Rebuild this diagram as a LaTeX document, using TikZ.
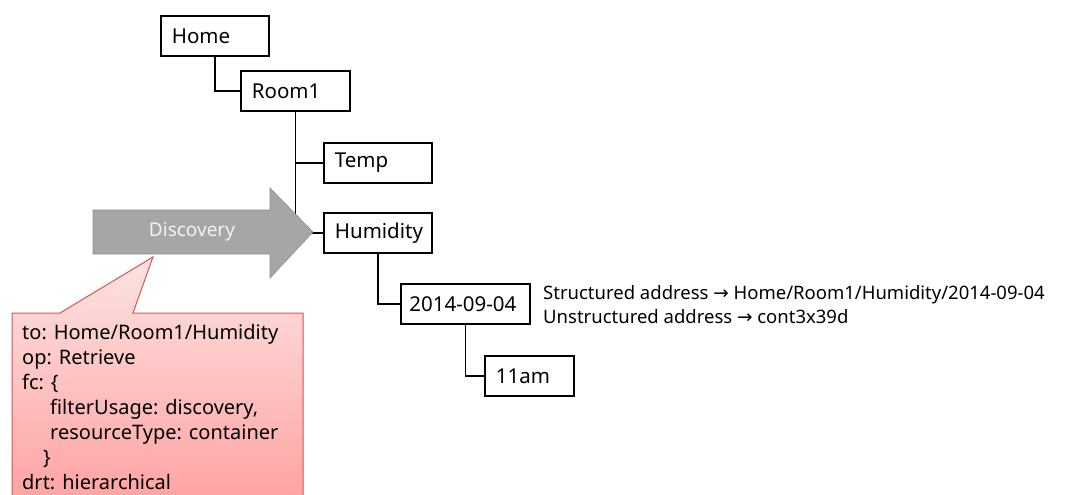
\documentclass[tikz,border=0pt]{standalone}
\usepackage{fontspec}
\setmainfont{Noto Sans}
\newfontfamily\symfont{DejaVu Sans}
\usepackage{xcolor}
\usetikzlibrary{positioning}

\definecolor{arrowgray}{HTML}{A6A6A6}
\definecolor{arrowline}{HTML}{8E8E8E}
\definecolor{calltop}{HTML}{FDE3E3}
\definecolor{callbot}{HTML}{FF9E9E}
\definecolor{callline}{HTML}{D65454}

\tikzset{
  treebox/.style={draw, line width=1.8pt, anchor=north west, minimum height=40pt,
    inner xsep=11pt, inner ysep=0pt, text width=#1, align=left,
    font=\fontsize{20.5}{23}\selectfont},
  link/.style={line width=1.8pt}
}

\begin{document}
\begin{tikzpicture}[x=1pt,y=-1pt]
\useasboundingbox (0,0) rectangle (1071,495);
  % tree of resources
  \node[treebox=86pt] (home) at (160,15) {Home};
  \node[treebox=87pt] (room) at (240,70) {Room1};
  \node[treebox=86pt] (temp) at (323,142) {Temp};
  \node[treebox=86pt] (hum) at (323,212) {Humidity};
  \node[treebox=112pt, inner xsep=8.5pt] (date) at (400,283) {2014-09-04};
  \node[treebox=67pt] (time) at (484,355) {11am};
    \draw[link] (home.south) |- (room.west);
    \draw[link] (room.south) |- (hum.west);
    \draw[link] (room.south |- temp.west) -- (temp.west);
    \draw[link] (hum.south) |- (date.west);
    \draw[link] (date.south) |- (time.west);
  \node[anchor=west, align=left, inner sep=0pt, font=\fontsize{18.5}{24}\selectfont]
    (addr) at (543,305) {Structured address {\symfont →} Home/Room1/Humidity/2014-09-04\\
    Unstructured address {\symfont →} cont3x39d};
  % discovery arrow
  \fill[arrowgray, draw=arrowline, line width=.6pt] (93,210) -- (270,210) -- (270,188)
    -- (313,232) -- (270,278) -- (270,254) -- (93,254) -- cycle;
  \node[text=white!95!black, font=\fontsize{19}{22}\selectfont] (disc) at (192,232) {Discovery};
  % request callout
  \coordinate (calltip) at (153,257);
  \shade[top color=calltop, bottom color=callbot, draw=callline, line width=1pt]
    (12,313) -- (60,313) -- (calltip) -- (133,313) -- (303,313) -- (303,520)
    -- (12,520) -- cycle;
  \node[anchor=north west, align=left, inner sep=0pt, font=\fontsize{20}{25}\selectfont]
    (req) at (22,324) {to: Home/Room1/Humidity\\
    op: Retrieve\\
    fc: \{\\
    \hspace*{28pt}filterUsage: discovery,\\
    \hspace*{28pt}resourceType: container\\
    \hspace*{21pt}\}\\
    drt: hierarchical};
\end{tikzpicture}
\end{document}
